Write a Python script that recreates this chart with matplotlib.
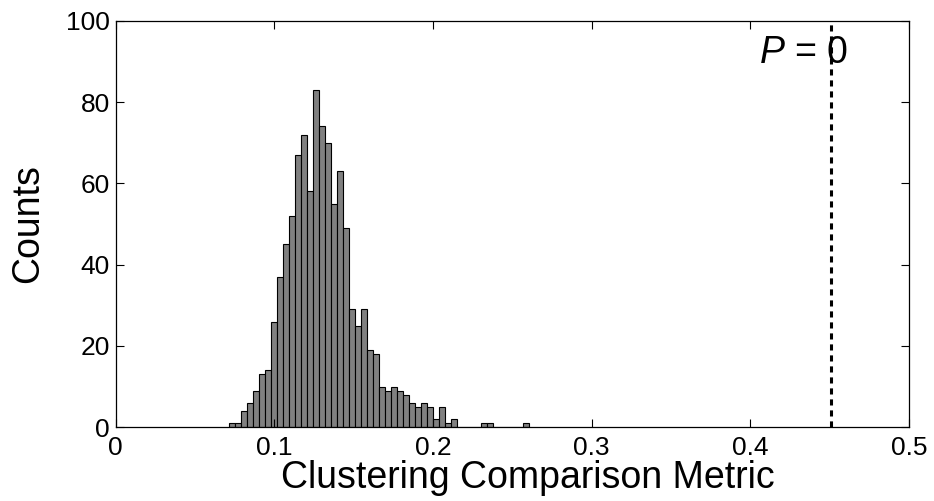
import numpy as np
import matplotlib
matplotlib.use("Agg")
import matplotlib.pyplot as plt

# Histogram counts (50 equal-width bins)
counts = [1, 1, 4, 6, 9, 13, 14, 26, 37, 45,
          52, 67, 72, 58, 83, 74, 70, 55, 63, 49,
          29, 25, 29, 19, 18, 10, 9, 10, 9, 8,
          6, 5, 6, 5, 2, 5, 1, 2, 0, 0,
          0, 0, 1, 1, 0, 0, 0, 0, 0, 1]
bin_lo = 0.0717
bin_hi = 0.2607
observed = 0.451
p_label = "$P$ = 0"
xticks = [0, 0.1, 0.2, 0.3, 0.4, 0.5]
xticklabels = ["0", "0.1", "0.2", "0.3", "0.4", "0.5"]
yticks = [0, 20, 40, 60, 80, 100]
yticklabels = ["0", "20", "40", "60", "80", "100"]

plt.rcParams['font.family'] = ['Liberation Sans', 'DejaVu Sans']
plt.rcParams['mathtext.fontset'] = 'custom'
plt.rcParams['mathtext.it'] = 'Liberation Sans:italic'
plt.rcParams['mathtext.rm'] = 'Liberation Sans'

fig = plt.figure(figsize=(9.34, 5.01), dpi=100)
ax = fig.add_axes([0.1237, 0.1471, 0.9732 - 0.1237, 0.9587 - 0.1471])

edges = np.linspace(bin_lo, bin_hi, len(counts) + 1)
ax.bar(edges[:-1], counts, width=np.diff(edges), align='edge',
       color='#808080', edgecolor='black', linewidth=0.8)

ax.plot([observed, observed], [0, 100], color='black', lw=2.2,
        linestyle=(0, (2.0, 1.6)))
ax.text(observed + 0.0105, 89.7, p_label, fontsize=27, ha='right',
        va='baseline')

ax.set_xlim(0, 0.5)
ax.set_ylim(0, 100)
ax.set_xticks(xticks)
ax.set_xticklabels(xticklabels)
ax.set_yticks(yticks)
ax.set_yticklabels(yticklabels)
ax.tick_params(direction='in', length=6, width=0.8, top=True, right=True,
               labelsize=19)
ax.tick_params(axis='x', pad=6)
ax.tick_params(axis='y', pad=4)
for s in ax.spines.values():
    s.set_linewidth(0.9)

ax.set_xlabel("Clustering Comparison Metric", fontsize=27)
ax.xaxis.set_label_coords(0.52, -0.080)
ax.set_ylabel("Counts", fontsize=27)
ax.yaxis.set_label_coords(-0.087, 0.5)

fig.savefig("out.png", dpi=100)
